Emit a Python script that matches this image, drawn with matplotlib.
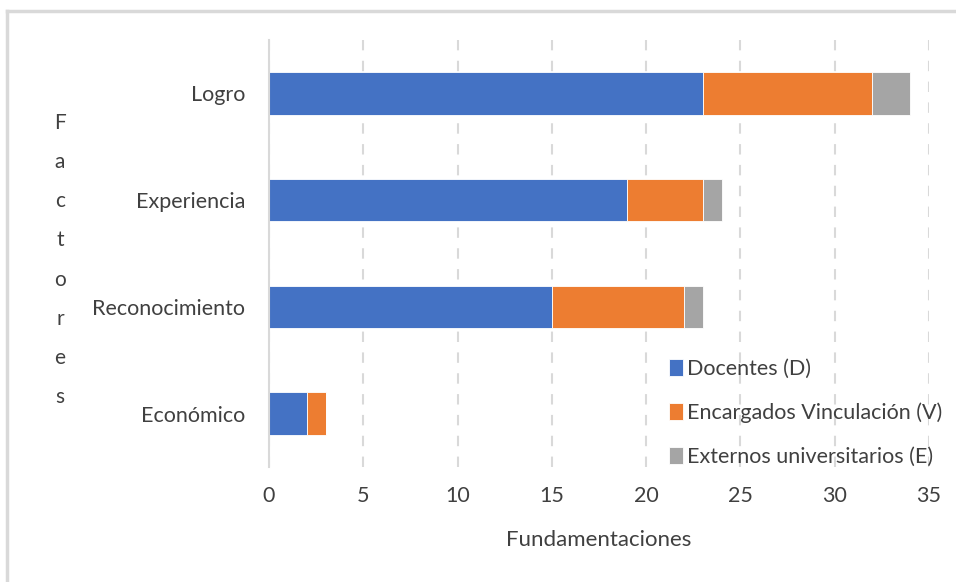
import matplotlib.pyplot as plt
import numpy as np
from matplotlib.lines import Line2D

plt.rcParams['font.family'] = ['Lato', 'DejaVu Sans']

factores = ['Logro', 'Experiencia', 'Reconocimiento', 'Económico']
docentes = [23, 19, 15, 2]
vinculacion = [9, 4, 7, 1]
externos = [2, 1, 1, 0]
series_names = ['Docentes (D)', 'Encargados Vinculación (V)', 'Externos universitarios (E)']
colores = ['#4472C4', '#ED7D31', '#A5A5A5']
x_ticks = [0, 5, 10, 15, 20, 25, 30, 35]

fig = plt.figure(figsize=(9.56, 5.82), dpi=100)
ax = fig.add_axes([269/956, 1 - 467/582, 660/956, 427/582])

# outer frame like the excel chart border
fig.add_artist(Line2D([7/956, 1.0], [1 - 11/582, 1 - 11/582], color='#d9d9d9', lw=2.5))
fig.add_artist(Line2D([7/956, 7/956], [0.0, 1 - 11/582], color='#d9d9d9', lw=2.5))

y = np.arange(len(factores))
left = np.zeros(len(factores))
for vals, name, col in zip([docentes, vinculacion, externos], series_names, colores):
    ax.barh(y, vals, left=left, height=0.4, color=col, edgecolor='white',
            linewidth=0.6, label=name, zorder=3)
    left = left + np.array(vals)

ax.set_ylim(len(factores) - 0.5, -0.5)
ax.set_xlim(0, 35)
ax.set_xticks(x_ticks)
ax.set_yticks(y)
ax.set_yticklabels(factores)

for s in ['top', 'right', 'bottom']:
    ax.spines[s].set_visible(False)
ax.spines['left'].set_color('#d9d9d9')
ax.spines['left'].set_linewidth(1.5)
ax.spines['left'].set_zorder(4)

ax.xaxis.grid(True, color='#d9d9d9', linestyle=(0, (5, 5)), linewidth=1.5, zorder=0)
ax.tick_params(axis='both', length=0, labelsize=15.5, colors='#404040')
ax.tick_params(axis='x', pad=14)
ax.tick_params(axis='y', pad=17)

ax.set_xlabel('Fundamentaciones', fontsize=16, color='#404040', labelpad=17)

fig.text(60/956, 1 - 260/582, '\n'.join('Factores'), fontsize=15, color='#404040',
         ha='center', va='center', linespacing=2.2)

leg = ax.legend(loc='lower right', bbox_to_anchor=(1.05, -0.045), frameon=False,
                fontsize=15.5, handlelength=0.65, handleheight=0.8, handletextpad=0.2,
                labelspacing=1.1, labelcolor='#404040')

fig.savefig('out.png', dpi=100)
